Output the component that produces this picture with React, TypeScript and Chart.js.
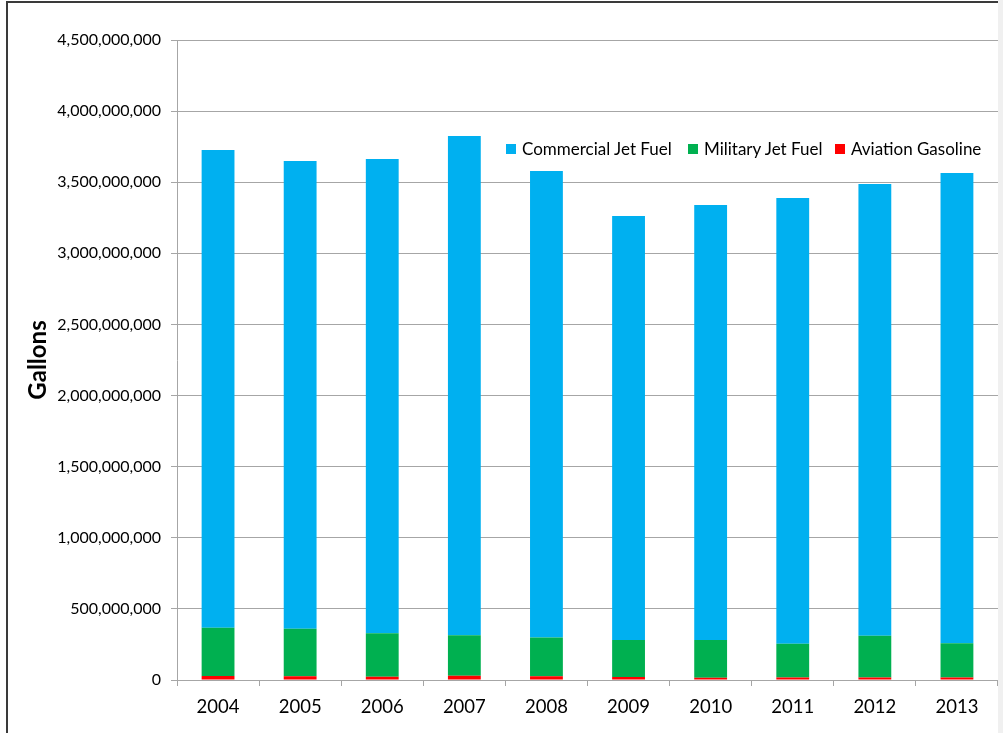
import React, { useEffect, useRef } from "react";
import { Chart, registerables } from "chart.js";

Chart.register(...registerables);

const years = ["2004", "2005", "2006", "2007", "2008", "2009", "2010", "2011", "2012", "2013"];
const commercialJetFuel = [3359e6, 3288e6, 3335e6, 3511e6, 3281e6, 2982e6, 3059e6, 3134e6, 3176e6, 3307e6];
const militaryJetFuel = [340e6, 335e6, 305e6, 284e6, 272e6, 260e6, 265e6, 237e6, 294e6, 240e6];
const aviationGasoline = [28e6, 26e6, 23e6, 30e6, 26e6, 21e6, 16e6, 18e6, 18e6, 18e6];
const seriesNames = ["Commercial Jet Fuel", "Military Jet Fuel", "Aviation Gasoline"];
const seriesColors = ["#00B0F0", "#00B050", "#FF0000"];

const FONT = "Lato, 'Open Sans', sans-serif";

export default function App() {
  const ref = useRef<HTMLCanvasElement | null>(null);
  useEffect(() => {
    if (!ref.current) return;
    const chart = new Chart(ref.current, {
      type: "bar",
      data: {
        labels: years,
        datasets: [
          { label: seriesNames[2], data: aviationGasoline, backgroundColor: seriesColors[2], borderWidth: 0 },
          { label: seriesNames[1], data: militaryJetFuel, backgroundColor: seriesColors[1], borderWidth: 0 },
          { label: seriesNames[0], data: commercialJetFuel, backgroundColor: seriesColors[0], borderWidth: 0 },
        ],
      },
      options: {
        responsive: false,
        animation: false,
        devicePixelRatio: 1,
        layout: { padding: { top: 37, left: 0, right: 0, bottom: 0 } },
        datasets: { bar: { barPercentage: 0.4, categoryPercentage: 1 } },
        plugins: { legend: { display: false }, tooltip: { enabled: false } },
        scales: {
          x: {
            stacked: true,
            grid: { drawOnChartArea: false, drawTicks: true, tickLength: 6, color: "#A6A6A6", offset: true },
            border: { display: true, color: "#A6A6A6", width: 1 },
            ticks: { color: "#000", font: { family: FONT, size: 18.5 }, padding: 10, maxRotation: 0 },
            afterFit: (axis: any) => { axis.height = 53; },
          },
          y: {
            stacked: true,
            min: 0,
            max: 4500000000,
            grid: { color: "#A6A6A6", drawTicks: true, tickLength: 6 },
            border: { display: true, color: "#A6A6A6", width: 1 },
            ticks: {
              stepSize: 500000000,
              color: "#000",
              font: { family: FONT, size: 16 },
              padding: 10,
              callback: (v: any) => Number(v).toLocaleString("en-US"),
            },
            title: {
              display: true,
              text: "Gallons",
              color: "#000",
              font: { family: FONT, size: 24, weight: "bold" },
              padding: { top: 16, bottom: 0 },
            },
            afterFit: (axis: any) => { axis.width = 169; },
          },
        },
      },
    });
    return () => chart.destroy();
  }, []);

  const legendItems = [0, 1, 2];
  const legendLeft = [506, 688, 835];
  return (
    <div style={{ position: "fixed", left: 0, top: 0, width: 1003, height: 733, overflow: "hidden", background: "#fff" }}>
      <div style={{ position: "absolute", left: 6, top: 1, width: 1100, height: 800, borderLeft: "2px solid #3a3a3a", borderTop: "2px solid #3a3a3a", boxSizing: "border-box" }} />
      <canvas ref={ref} width={990} height={730} style={{ position: "absolute", left: 8, top: 3, width: 990, height: 730 }} />
      {legendItems.map((i) => (
        <div key={i} style={{ position: "absolute", left: legendLeft[i], top: 138, display: "flex", alignItems: "center", fontFamily: FONT, fontSize: 17, color: "#000", whiteSpace: "nowrap" }}>
          <span style={{ display: "inline-block", width: 10, height: 10, background: seriesColors[i], marginRight: 6 }} />
          <span>{seriesNames[i]}</span>
        </div>
      ))}
      <div style={{ position: "absolute", left: 998, top: 0, width: 5, height: 733, background: "#F0F0F0" }} />
    </div>
  );
}
